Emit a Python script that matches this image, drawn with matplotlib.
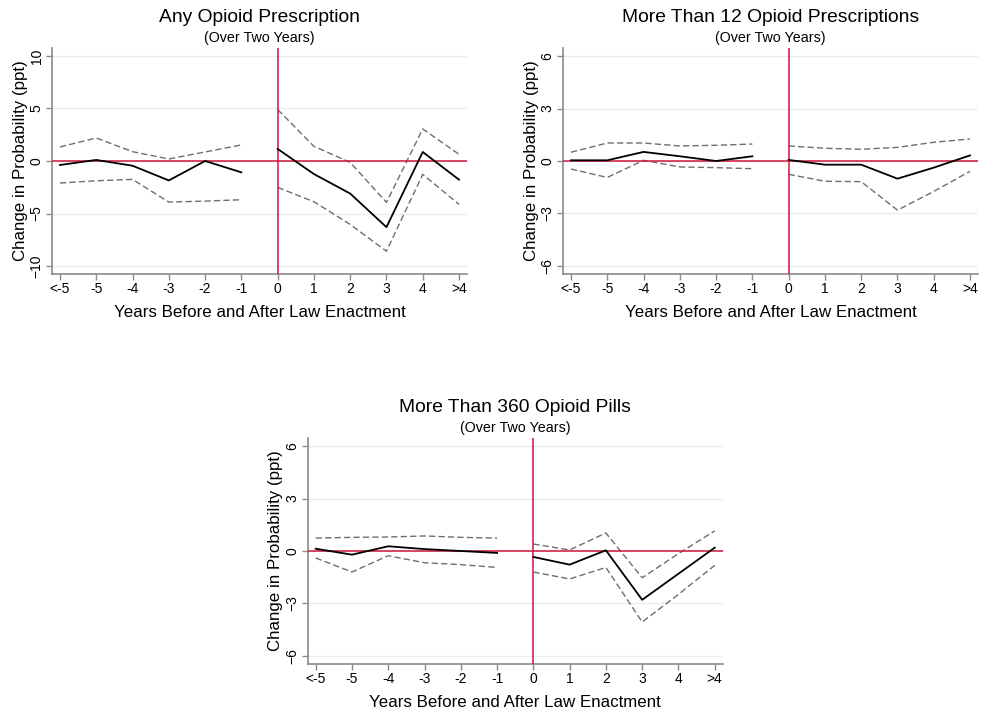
import matplotlib
matplotlib.use("Agg")
import matplotlib.pyplot as plt
import numpy as np

plt.rcParams['font.family'] = ['Liberation Sans', 'DejaVu Sans']
plt.rcParams['lines.scale_dashes'] = False

categories = ["<-5", "-5", "-4", "-3", "-2", "-1", "0", "1", "2", "3", "4", ">4"]

# Panel 1: Any Opioid Prescription
any_est = [-0.38, 0.10, -0.45, -1.85, 0.00, -1.08, 1.15, -1.24, -3.10, -6.30, 0.86, -1.78]
any_hi = [1.34, 2.19, 0.89, 0.19, 0.86, 1.53, 4.90, 1.40, -0.13, -3.94, 3.05, 0.64]
any_lo = [-2.10, -1.88, -1.75, -3.91, -3.82, -3.69, -2.51, -3.88, -6.04, -8.59, -1.27, -4.13]

# Panel 2: More Than 12 Opioid Prescriptions
rx12_est = [0.04, 0.04, 0.52, 0.27, 0.00, 0.27, 0.06, -0.21, -0.21, -1.01, -0.38, 0.32]
rx12_hi = [0.50, 1.03, 1.03, 0.86, 0.90, 0.97, 0.86, 0.73, 0.67, 0.78, 1.07, 1.26]
rx12_lo = [-0.46, -0.94, 0.04, -0.34, -0.38, -0.44, -0.76, -1.16, -1.18, -2.81, -1.74, -0.59]

# Panel 3: More Than 360 Opioid Pills
pills_est = [0.13, -0.21, 0.27, 0.11, 0.00, -0.11, -0.34, -0.78, 0.04, -2.79, -1.30, 0.19]
pills_hi = [0.74, 0.78, 0.80, 0.86, 0.78, 0.74, 0.40, 0.06, 1.03, -1.53, -0.15, 1.15]
pills_lo = [-0.40, -1.20, -0.27, -0.67, -0.78, -0.94, -1.20, -1.60, -0.94, -4.06, -2.48, -0.82]

titles = ["Any Opioid Prescription", "More Than 12 Opioid Prescriptions", "More Than 360 Opioid Pills"]
subtitle = "(Over Two Years)"
xlabel = "Years Before and After Law Enactment"
ylabel = "Change in Probability (ppt)"
yticks_list = [[-10, -5, 0, 5, 10], [-6, -3, 0, 3, 6], [-6, -3, 0, 3, 6]]
ylims = [(-10.76, 10.76), (-6.46, 6.46), (-6.46, 6.46)]

W, H = 982, 712
fig = plt.figure(figsize=(W / 100, H / 100), dpi=100)

def px_axes(left, top, right, bottom):
    return fig.add_axes([left / W, 1 - bottom / H, (right - left) / W, (bottom - top) / H])

axes = [px_axes(52, 48, 467, 274), px_axes(563, 48, 978, 274), px_axes(307.7, 438, 722.7, 664)]
data = [(any_est, any_hi, any_lo), (rx12_est, rx12_hi, rx12_lo), (pills_est, pills_hi, pills_lo)]

RED = '#D2143C'
GRAY = '#8a8a8a'
DASH = '#6e6e6e'
GRID = '#E6EEF0'
x = np.arange(len(categories))
zero_idx = categories.index("0")
pre = slice(0, zero_idx)
post = slice(zero_idx, len(categories))

for ax, (est, hi, lo), title, yt, yl in zip(axes, data, titles, yticks_list, ylims):
    est, hi, lo = map(np.array, (est, hi, lo))
    ax.set_xlim(-0.22, len(categories) - 1 + 0.22)
    ax.set_ylim(*yl)
    ax.set_yticks(yt)
    for v in yt:
        ax.axhline(v, color=GRID, lw=1.0, zorder=0)
    ax.axhline(0, color=RED, lw=1.1, zorder=3)
    ax.axvline(zero_idx, color=RED, lw=1.1, zorder=3)
    for sl in (pre, post):
        ax.plot(x[sl], hi[sl], color=DASH, lw=1.0, dashes=(4.5, 2.3), zorder=2)
        ax.plot(x[sl], lo[sl], color=DASH, lw=1.0, dashes=(4.5, 2.3), zorder=2)
        ax.plot(x[sl], est[sl], color='black', lw=1.3, zorder=4)
    ax.set_xticks(x)
    ax.set_xticklabels(categories)
    for s in ('top', 'right'):
        ax.spines[s].set_visible(False)
    for s in ('left', 'bottom'):
        ax.spines[s].set_color(GRAY)
        ax.spines[s].set_linewidth(1.2)
    ax.tick_params(axis='both', colors=GRAY, labelcolor='black', length=4, width=1.0, labelsize=10)
    ax.tick_params(axis='x', pad=2)
    ax.tick_params(axis='y', pad=2)
    for lab in ax.get_yticklabels():
        lab.set_rotation(90)
        lab.set_va('center')
        lab.set_ha('right')
    ax.annotate(title, xy=(0.5, 1), xycoords='axes fraction', xytext=(0, 22.3),
                textcoords='offset points', ha='center', va='center', fontsize=13.9)
    ax.annotate(subtitle, xy=(0.5, 1), xycoords='axes fraction', xytext=(0, 7.2),
                textcoords='offset points', ha='center', va='center', fontsize=10.3)
    ax.annotate(xlabel, xy=(0.5, 0), xycoords='axes fraction', xytext=(0, -27.4),
                textcoords='offset points', ha='center', va='center', fontsize=12.2)
    ax.annotate(ylabel, xy=(0, 0.5), xycoords='axes fraction', xytext=(-23, 0),
                textcoords='offset points', ha='center', va='center', fontsize=12.2,
                rotation=90)

fig.savefig("out.png", dpi=100, facecolor='white')
